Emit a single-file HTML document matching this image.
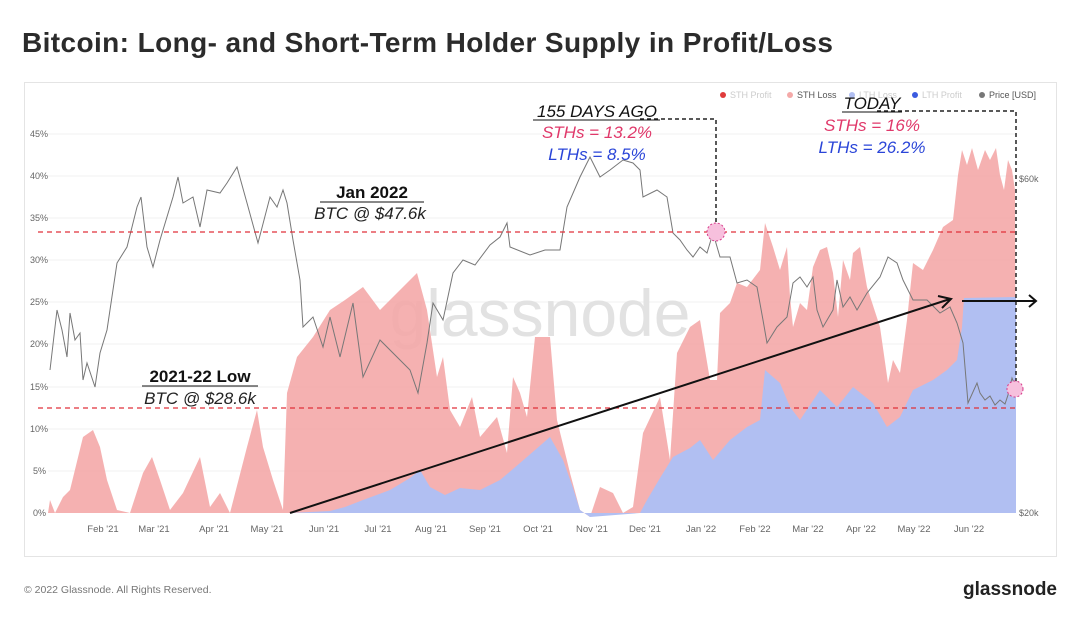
<!DOCTYPE html>
<html><head><meta charset="utf-8"><style>
body{margin:0;background:#fff;width:1080px;height:621px;overflow:hidden;font-family:"Liberation Sans",sans-serif}
</style></head><body>
<svg width="1080" height="621" viewBox="0 0 1080 621" xmlns="http://www.w3.org/2000/svg" font-family="Liberation Sans, sans-serif">
<text x="22" y="52" font-size="28" fill="#2b2b2b" font-weight="bold" letter-spacing="0.4">Bitcoin: Long- and Short-Term Holder Supply in Profit/Loss</text>
<rect x="24.5" y="82.5" width="1032" height="474" fill="#fff" stroke="#e4e4e4"/>
<g stroke="#f0f0f0" stroke-width="1">
<line x1="48" x2="1015" y1="134" y2="134"/><line x1="48" x2="1015" y1="176" y2="176"/><line x1="48" x2="1015" y1="218" y2="218"/><line x1="48" x2="1015" y1="260" y2="260"/><line x1="48" x2="1015" y1="302" y2="302"/><line x1="48" x2="1015" y1="344" y2="344"/><line x1="48" x2="1015" y1="387" y2="387"/><line x1="48" x2="1015" y1="429" y2="429"/><line x1="48" x2="1015" y1="471" y2="471"/>
</g>
<g font-size="9" fill="#666">
<text x="30" y="137">45%</text><text x="30" y="179">40%</text><text x="30" y="221">35%</text><text x="30" y="263">30%</text><text x="30" y="305">25%</text><text x="30" y="347">20%</text><text x="30" y="390">15%</text><text x="30" y="432">10%</text><text x="33" y="474">5%</text><text x="33" y="516">0%</text>
<text x="1019" y="182">$60k</text><text x="1019" y="516">$20k</text>
</g>
<g font-size="9.5" fill="#666" text-anchor="middle">
<text x="103" y="532">Feb '21</text><text x="154" y="532">Mar '21</text><text x="214" y="532">Apr '21</text><text x="267" y="532">May '21</text><text x="324" y="532">Jun '21</text><text x="378" y="532">Jul '21</text><text x="431" y="532">Aug '21</text><text x="485" y="532">Sep '21</text><text x="538" y="532">Oct '21</text><text x="592" y="532">Nov '21</text><text x="645" y="532">Dec '21</text><text x="701" y="532">Jan '22</text><text x="755" y="532">Feb '22</text><text x="808" y="532">Mar '22</text><text x="861" y="532">Apr '22</text><text x="914" y="532">May '22</text><text x="969" y="532">Jun '22</text>
</g>
<text x="540" y="336" font-size="66" fill="#e2e2e2" text-anchor="middle">glassnode</text>
<polygon fill="#f4a9a8" opacity="0.9" points="48,513 50,500 55,513 63,497 70,490 83,437 93,430 100,447 107,480 117,510 130,513 143,473 152,457 160,480 170,510 183,493 200,457 210,507 220,493 230,513 247,447 257,410 263,447 273,480 283,510 287,393 297,357 313,337 330,310 345,300 363,287 380,310 407,283 417,273 427,310 437,377 443,357 450,410 460,427 472,397 480,437 497,417 507,453 513,377 520,393 527,417 535,337 550,337 557,420 570,473 580,510 590,517 600,487 613,493 623,513 633,507 643,433 660,397 670,460 677,353 690,327 700,320 710,380 717,380 720,313 730,303 737,283 747,287 760,270 765,223 773,247 780,270 787,247 790,297 793,327 800,303 807,310 813,267 820,250 827,247 833,273 838,317 843,260 850,280 853,253 860,247 867,287 880,327 888,383 893,360 900,373 907,320 913,263 923,270 933,250 943,227 953,220 958,175 962,150 967,165 972,148 978,170 985,150 990,160 996,148 1000,175 1004,190 1008,160 1012,170 1015,190 1016,513"/>
<polygon fill="#b1bff2" points="290,513 330,511 345,507 363,500 390,490 410,478 420,470 430,487 445,495 460,488 480,490 500,480 520,463 535,450 550,437 563,460 572,485 580,510 590,517 640,513 647,500 660,478 673,457 690,448 700,440 713,460 730,440 747,427 760,420 765,370 780,383 790,407 800,420 820,390 837,407 853,387 873,403 887,427 900,417 913,390 933,380 947,370 957,360 962,327 964,298 1016,297 1016,513"/>
<polyline fill="none" stroke="#777" stroke-width="1" points="50,370 57,310 62,330 67,357 70,313 75,340 80,333 83,380 87,363 95,387 100,353 107,330 117,263 127,247 137,207 141,197 147,247 153,267 160,240 173,197 178,177 183,203 193,197 200,227 207,190 220,193 227,183 237,167 247,203 258,243 270,197 277,207 283,190 287,203 293,240 300,280 303,327 313,317 323,347 330,317 340,357 353,303 363,377 380,340 400,360 410,370 418,393 427,343 433,303 443,320 453,273 463,260 475,265 490,245 500,237 507,223 510,247 530,255 545,250 560,250 567,207 580,177 590,157 600,177 610,170 623,160 633,163 640,170 643,197 657,190 667,197 673,233 680,240 687,250 693,257 700,247 707,253 713,233 720,257 730,257 737,283 747,280 757,287 763,320 767,343 777,327 787,317 793,283 800,277 807,287 813,277 817,310 823,327 833,310 837,280 843,307 850,297 857,310 867,293 880,277 888,257 897,263 903,280 913,300 927,300 940,313 950,307 957,323 963,343 968,403 977,383 980,393 985,400 990,396 995,405 1000,400 1005,404 1008,395 1012,378 1016,388"/>
<g stroke="#e0303a" stroke-width="1.3" stroke-dasharray="5,4"><line x1="38" x2="1018" y1="232" y2="232"/><line x1="38" x2="1018" y1="408" y2="408"/></g>
<g stroke="#222" stroke-width="1.5" stroke-dasharray="4,3" fill="none"><polyline points="640,119 716,119 716,224"/><polyline points="877,111 1016,111 1016,385"/></g>
<circle cx="716" cy="232" r="9" fill="#f7c0dd" stroke="#d63a8a" stroke-dasharray="2,2"/>
<circle cx="1015" cy="389" r="8" fill="#f7c0dd" stroke="#d63a8a" stroke-dasharray="2,2"/>
<g stroke="#111" stroke-width="2" fill="none"><line x1="290" y1="513" x2="950" y2="299"/><polyline points="938,296 951,299 942,308"/><line x1="962" y1="301" x2="1036" y2="301"/><polyline points="1029,295 1036,301 1029,307"/></g>
<g font-size="9" fill="#555">
<circle cx="723" cy="95" r="3" fill="#e03b3b"/><text x="730" y="98" fill="#ccc">STH Profit</text>
<circle cx="790" cy="95" r="3" fill="#f4a9a8"/><text x="797" y="98">STH Loss</text>
<circle cx="852" cy="95" r="3" fill="#b1bff2"/><text x="859" y="98" fill="#ccc">LTH Loss</text>
<circle cx="915" cy="95" r="3" fill="#3b5be0"/><text x="922" y="98" fill="#ccc">LTH Profit</text>
<circle cx="982" cy="95" r="3" fill="#777"/><text x="989" y="98">Price [USD]</text>
</g>
<g text-anchor="middle" font-size="17">
<text x="372" y="198" font-weight="bold" fill="#111">Jan 2022</text><line x1="320" x2="424" y1="202" y2="202" stroke="#111"/>
<text x="370" y="219" font-style="italic" fill="#222">BTC @ $47.6k</text>
<text x="200" y="382" font-weight="bold" fill="#111">2021-22 Low</text><line x1="142" x2="258" y1="386" y2="386" stroke="#111"/>
<text x="200" y="404" font-style="italic" fill="#222">BTC @ $28.6k</text>
<text x="597" y="117" font-style="italic" fill="#111">155 DAYS AGO</text><line x1="533" x2="660" y1="120" y2="120" stroke="#111"/>
<text x="597" y="138" font-style="italic" fill="#e0386a">STHs = 13.2%</text>
<text x="597" y="160" font-style="italic" fill="#2a45d8">LTHs = 8.5%</text>
<text x="872" y="109" font-style="italic" fill="#111">TODAY</text><line x1="842" x2="902" y1="112" y2="112" stroke="#111"/>
<text x="872" y="131" font-style="italic" fill="#e0386a">STHs = 16%</text>
<text x="872" y="153" font-style="italic" fill="#2a45d8">LTHs = 26.2%</text>
</g>
<text x="24" y="593" font-size="10.5" fill="#777">© 2022 Glassnode. All Rights Reserved.</text>
<text x="1057" y="595" font-size="19" font-weight="bold" fill="#222" text-anchor="end">glassnode</text>
</svg>
</body></html>
